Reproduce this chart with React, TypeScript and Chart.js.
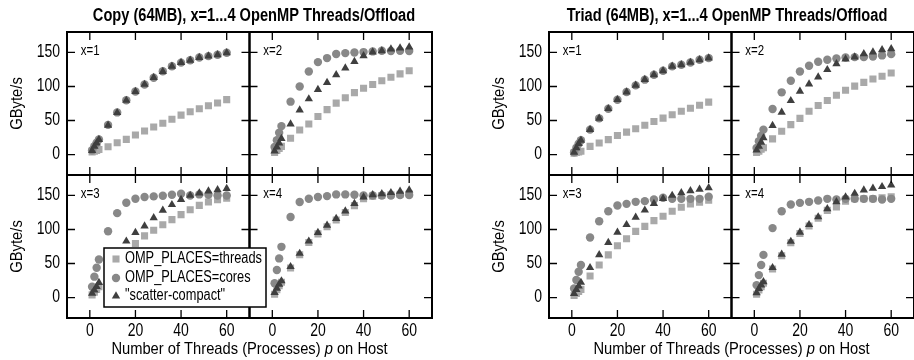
import React, { useEffect, useRef } from 'react';
import { Chart, registerables } from 'chart.js';
import { drawPoint } from 'chart.js/helpers';

Chart.register(...registerables);

const FONT = "'Liberation Sans', Arial, sans-serif";

// ---------- data ----------
const THREADS = [1, 2, 3, 4, 8, 12, 16, 20, 24, 28, 32, 36, 40, 44, 48, 52, 56, 60];
const X_TICKS = [0, 20, 40, 60];
const Y_TICKS = [0, 50, 100, 150];
const PANEL_LABELS = ['x=1', 'x=2', 'x=3', 'x=4'];
const SERIES_NAMES = ['OMP_PLACES=threads', 'OMP_PLACES=cores', '"scatter-compact"'];
const COPY_TITLE = 'Copy (64MB), x=1...4 OpenMP Threads/Offload';
const TRIAD_TITLE = 'Triad (64MB), x=1...4 OpenMP Threads/Offload';
const Y_TITLE = 'GByte/s';
const X_TITLE_PARTS = ['Number of Threads (Processes) ', 'p', ' on Host'];

// Copy
const copyThreadsX1 = [4, 5, 6, 7.4, 11.4, 17.3, 22.3, 28.7, 34.7, 40.6, 46, 52, 57.9, 62.9, 67.3, 71.8, 75.7, 80.7];
const copyCoresX1 = [6.4, 12.4, 17.3, 22.3, 43.6, 61.9, 79.7, 92.6, 103, 112.9, 122.3, 129.7, 135, 138.6, 142.6, 144.6, 146.5, 149.5];
const copyScatterX1 = [6, 12, 17, 22, 43, 61.5, 79.5, 92.5, 103, 113, 122, 129.5, 135, 138.5, 142.5, 144.5, 146.5, 149.5];

const copyThreadsX2 = [3, 6, 9, 12, 24, 36, 45, 56, 66, 75.5, 83.5, 91, 97.5, 103, 108.5, 113.5, 118.5, 123];
const copyCoresX2 = [11.3, 21, 32, 41.8, 77.7, 99.9, 122, 135.8, 141.7, 147.6, 149, 150, 150.5, 151.5, 152.5, 152, 152.5, 152];
const copyScatterX2 = [5, 11, 17, 23.6, 44.8, 65.4, 81.7, 95.4, 105.8, 117, 127, 136.7, 145, 150.5, 152.5, 155, 156.5, 158];

const copyThreadsX3 = [4, 8, 12, 16, 35, 52, 67, 79.4, 90.6, 98.9, 107, 114.5, 121.8, 129, 135.4, 140.3, 143.7, 146];
const copyCoresX3 = [16, 30.7, 43.8, 56, 97.4, 124, 139.3, 145.2, 147.6, 148.6, 149.5, 151, 152.5, 150, 151.5, 151, 150, 150];
const copyScatterX3 = [6.3, 11, 16, 22, 45, 66, 82.8, 95.5, 105, 117, 128, 136.4, 144, 150, 153.4, 156.4, 158.3, 160];

const copyThreadsX4 = [5, 11.5, 17.5, 22.5, 43.5, 63, 81, 93.5, 104, 114, 125, 135, 145, 149, 150, 151, 151.5, 152];
const copyCoresX4 = [21, 40.4, 57.5, 74.5, 118.4, 140.3, 145.2, 147.6, 149, 151.5, 151.5, 151, 150, 150, 150, 150, 150.5, 150.5];
const copyScatterX4 = [7.3, 13.6, 19.5, 24.4, 45.3, 64.8, 82.8, 95.5, 106, 116, 127, 138, 147.6, 151, 152.5, 154, 156, 158];

// Triad
const triadThreadsX1 = [2, 3, 4, 5, 12, 17, 22, 28, 33, 38, 43, 48.5, 53.5, 58.5, 63.5, 68, 72.5, 77];
const triadCoresX1 = [3.4, 10, 16, 21, 36.6, 53.2, 67.4, 80.6, 91.8, 101.6, 110, 117.2, 123.1, 129.5, 131.9, 135.3, 139.2, 141.7];
const triadScatterX1 = [3.4, 10, 16, 21, 36.6, 53.2, 67.4, 80.6, 91.8, 101.6, 110, 117.2, 123.1, 129.5, 131.9, 135.3, 139.2, 141.7];

const triadThreadsX2 = [3, 5, 8, 10, 23, 34.2, 44, 53.2, 63.5, 72, 79.5, 87, 94.5, 100.5, 106, 111, 115, 119.7];
const triadCoresX2 = [9.8, 19.5, 27.8, 36.6, 67, 91.4, 108.5, 122, 130.4, 136.3, 139.2, 141.2, 142.6, 143.1, 143.1, 144.1, 145.6, 147.5];
const triadScatterX2 = [6.4, 12.2, 18, 24.4, 42.5, 62, 79.1, 92.8, 103.6, 113.8, 124.6, 133.4, 140.2, 143.1, 148, 150.5, 153.9, 155.3];

const triadThreadsX3 = [3, 6, 9, 12, 31.6, 47.9, 62.7, 76, 86.3, 97.2, 104.6, 113, 119.4, 126.8, 132.7, 137.6, 140, 143];
const triadCoresX3 = [13.3, 25.7, 38, 47.9, 88.3, 112, 126.8, 135.2, 137.6, 140.6, 141.6, 144, 146.5, 145, 145, 145, 145, 148];
const triadScatterX3 = [6, 11.8, 16.8, 22.2, 43.9, 62.7, 80.9, 95.7, 107, 117.9, 128.3, 138.1, 145.5, 150, 153.9, 156.9, 158.9, 161.3];

const triadThreadsX4 = [5, 11, 16, 21, 42, 61.5, 80.5, 94, 105, 116.5, 128, 133, 141.6, 145, 145, 145, 146.5, 148];
const triadCoresX4 = [18.3, 33, 47.9, 62.7, 102, 126.8, 136.7, 139.1, 140.6, 142.6, 145, 144, 145, 145, 145, 145, 144, 145];
const triadScatterX4 = [6.9, 13.3, 18.3, 23.2, 43.9, 63.6, 82.4, 95.7, 107, 118.4, 130.2, 140.6, 147.5, 152.9, 157.9, 160.3, 162.8, 165.3];

// ---------- styles ----------
const STYLES = [
  { pointStyle: 'rect', radius: 5, color: '#a9a9a9', order: 3 },
  { pointStyle: 'circle', radius: 4.2, color: '#888888', order: 2 },
  { pointStyle: 'triangle', radius: 4.8, color: '#3f3f3f', order: 1 },
];
const SUBPLOT_AXES = [['xL', 'yT'], ['xR', 'yT'], ['xL', 'yB'], ['xR', 'yB']];
const TICK_LEN = 8;

function buildDatasets(panels: number[][][]) {
  const out: any[] = [];
  panels.forEach((series, k) => {
    const [xa, ya] = SUBPLOT_AXES[k];
    series.forEach((vals, s) => {
      const st = STYLES[s];
      out.push({
        label: SERIES_NAMES[s] + ' ' + PANEL_LABELS[k],
        data: THREADS.map((t, i) => ({ x: t, y: vals[i] })),
        xAxisID: xa,
        yAxisID: ya,
        pointStyle: st.pointStyle,
        pointRadius: st.radius,
        backgroundColor: st.color,
        borderColor: st.color,
        borderWidth: 0,
        showLine: false,
        order: st.order,
      });
    });
  });
  return out;
}

// draw horizontally condensed text (the reference uses a narrow Helvetica)
function sqText(ctx: CanvasRenderingContext2D, text: string, x: number, y: number, font: string, sx: number, align: CanvasTextAlign, rot = 0) {
  ctx.save();
  ctx.translate(x, y);
  if (rot) ctx.rotate(rot);
  ctx.scale(sx, 1);
  ctx.font = font;
  ctx.textAlign = align;
  ctx.textBaseline = 'middle';
  ctx.fillStyle = '#000';
  ctx.fillText(text, 0, 0);
  ctx.restore();
}

const framePlugin = {
  id: 'frame',
  afterDatasetsDraw(chart: any, _args: any, opts: any) {
    const ctx: CanvasRenderingContext2D = chart.ctx;
    const s = chart.scales;
    const area = chart.chartArea;
    ctx.save();
    SUBPLOT_AXES.forEach(([xa, ya], k) => {
      const xs = s[xa];
      const ys = s[ya];
      const L = xs.left, R = xs.right, T = ys.top, B = ys.bottom;
      ctx.strokeStyle = '#000';
      ctx.lineWidth = 1.3;
      ctx.beginPath();
      X_TICKS.forEach((v) => {
        const px = xs.getPixelForValue(v);
        ctx.moveTo(px, T); ctx.lineTo(px, T + TICK_LEN);
        ctx.moveTo(px, B); ctx.lineTo(px, B - TICK_LEN);
      });
      Y_TICKS.forEach((v) => {
        const py = ys.getPixelForValue(v);
        ctx.moveTo(L, py); ctx.lineTo(L + TICK_LEN, py);
        ctx.moveTo(R, py); ctx.lineTo(R - TICK_LEN, py);
      });
      ctx.stroke();
      ctx.lineWidth = 2;
      ctx.strokeRect(L, T, R - L, B - T);
      sqText(ctx, PANEL_LABELS[k], xs.getPixelForValue(-4), ys.getPixelForValue(152), `14px ${FONT}`, 0.82, 'left');
    });

    // tick labels (from the scales' ticks)
    ['yT', 'yB'].forEach((id) => {
      const ys = s[id];
      ys.ticks.forEach((t: any) => {
        sqText(ctx, String(t.value), area.left - 7, ys.getPixelForValue(t.value), `17.5px ${FONT}`, 0.8, 'right');
      });
      sqText(ctx, Y_TITLE, ys.left + 17, (ys.top + ys.bottom) / 2, `17px ${FONT}`, 0.87, 'center', -Math.PI / 2);
    });
    ['xL', 'xR'].forEach((id) => {
      const xs = s[id];
      xs.ticks.forEach((t: any) => {
        sqText(ctx, String(t.value), xs.getPixelForValue(t.value), area.bottom + 13, `17.5px ${FONT}`, 0.8, 'center');
      });
    });

    // title
    const W = chart.width;
    sqText(ctx, opts.title, W / 2, 16, `bold 17.5px ${FONT}`, 0.836, 'center');

    // x-axis title centred under the whole figure
    const sxT = 0.865;
    const cx = (area.left + area.right) / 2;
    const ty = area.bottom + 31;
    const fN = `17px ${FONT}`;
    const fI = `italic 17px ${FONT}`;
    ctx.font = fN;
    const w1 = ctx.measureText(X_TITLE_PARTS[0]).width * sxT;
    const w3 = ctx.measureText(X_TITLE_PARTS[2]).width * sxT;
    ctx.font = fI;
    const w2 = ctx.measureText(X_TITLE_PARTS[1]).width * sxT;
    let x0 = cx - (w1 + w2 + w3) / 2;
    sqText(ctx, X_TITLE_PARTS[0], x0, ty, fN, sxT, 'left'); x0 += w1;
    sqText(ctx, X_TITLE_PARTS[1], x0, ty, fI, sxT, 'left'); x0 += w2;
    sqText(ctx, X_TITLE_PARTS[2], x0, ty, fN, sxT, 'left');

    if (opts && opts.legend) {
      const xs = s.xL;
      const ys = s.yB;
      const bx = xs.left + 37;
      const by = ys.top + 73;
      const bw = 162;
      const bh = 59;
      ctx.fillStyle = '#fff';
      ctx.fillRect(bx, by, bw, bh);
      ctx.strokeStyle = '#000';
      ctx.lineWidth = 1.5;
      ctx.strokeRect(bx, by, bw, bh);
      const rows = [11, 30, 48];
      STYLES.forEach((st, i) => {
        ctx.fillStyle = st.color;
        ctx.strokeStyle = st.color;
        drawPoint(ctx, { pointStyle: st.pointStyle as any, radius: st.radius, rotation: 0, borderWidth: 0 }, bx + 12, by + rows[i]);
        sqText(ctx, SERIES_NAMES[i], bx + 21, by + rows[i], `16px ${FONT}`, 0.8, 'left');
      });
    }
    ctx.restore();
  },
};

function xScale(weight: number) {
  return {
    type: 'linear',
    position: 'bottom',
    stack: 'x',
    stackWeight: 1,
    weight,
    min: -10,
    max: 70,
    grid: { display: false, drawTicks: false },
    border: { display: false },
    afterBuildTicks: (sc: any) => { sc.ticks = X_TICKS.map((v) => ({ value: v })); },
    afterFit: (sc: any) => { sc.height = 42; },
    ticks: { display: false },
  };
}

function yScale(weight: number) {
  return {
    type: 'linear',
    position: 'left',
    stack: 'y',
    stackWeight: 1,
    weight,
    min: -30,
    max: 180,
    grid: { display: false, drawTicks: false },
    border: { display: false },
    afterBuildTicks: (sc: any) => { sc.ticks = Y_TICKS.map((v) => ({ value: v })); },
    afterFit: (sc: any) => { sc.width = 67; },
    ticks: { display: false },
  };
}

function Figure(props: { title: string; panels: number[][][]; left: number; width: number; padRight: number; legend: boolean }) {
  const ref = useRef<HTMLCanvasElement>(null);
  useEffect(() => {
    const chart = new Chart(ref.current as HTMLCanvasElement, {
      type: 'scatter',
      data: { datasets: buildDatasets(props.panels) },
      options: {
        responsive: false,
        animation: false,
        devicePixelRatio: 1,
        layout: { padding: { left: 0, right: props.padRight, top: 32, bottom: 0 } },
        scales: {
          xL: xScale(0),
          xR: xScale(1),
          yB: yScale(0),
          yT: yScale(1),
        } as any,
        plugins: {
          legend: { display: false },
          tooltip: { enabled: false },
          title: { display: false },
          frame: { legend: props.legend, title: props.title },
        } as any,
      },
      plugins: [framePlugin as any],
    });
    return () => chart.destroy();
  }, []);
  return (
    <canvas
      ref={ref}
      width={props.width}
      height={360}
      style={{ position: 'absolute', left: props.left, top: 0, width: props.width, height: 360 }}
    />
  );
}

export default function App() {
  const copyPanels = [
    [copyThreadsX1, copyCoresX1, copyScatterX1],
    [copyThreadsX2, copyCoresX2, copyScatterX2],
    [copyThreadsX3, copyCoresX3, copyScatterX3],
    [copyThreadsX4, copyCoresX4, copyScatterX4],
  ];
  const triadPanels = [
    [triadThreadsX1, triadCoresX1, triadScatterX1],
    [triadThreadsX2, triadCoresX2, triadScatterX2],
    [triadThreadsX3, triadCoresX3, triadScatterX3],
    [triadThreadsX4, triadCoresX4, triadScatterX4],
  ];
  return (
    <div style={{ position: 'fixed', left: 0, top: 0, width: 914, height: 360, overflow: 'hidden', background: '#fff' }}>
      <Figure title={COPY_TITLE} panels={copyPanels} left={0} width={508} padRight={76} legend={true} />
      <Figure title={TRIAD_TITLE} panels={triadPanels} left={482} width={490} padRight={58} legend={false} />
    </div>
  );
}
